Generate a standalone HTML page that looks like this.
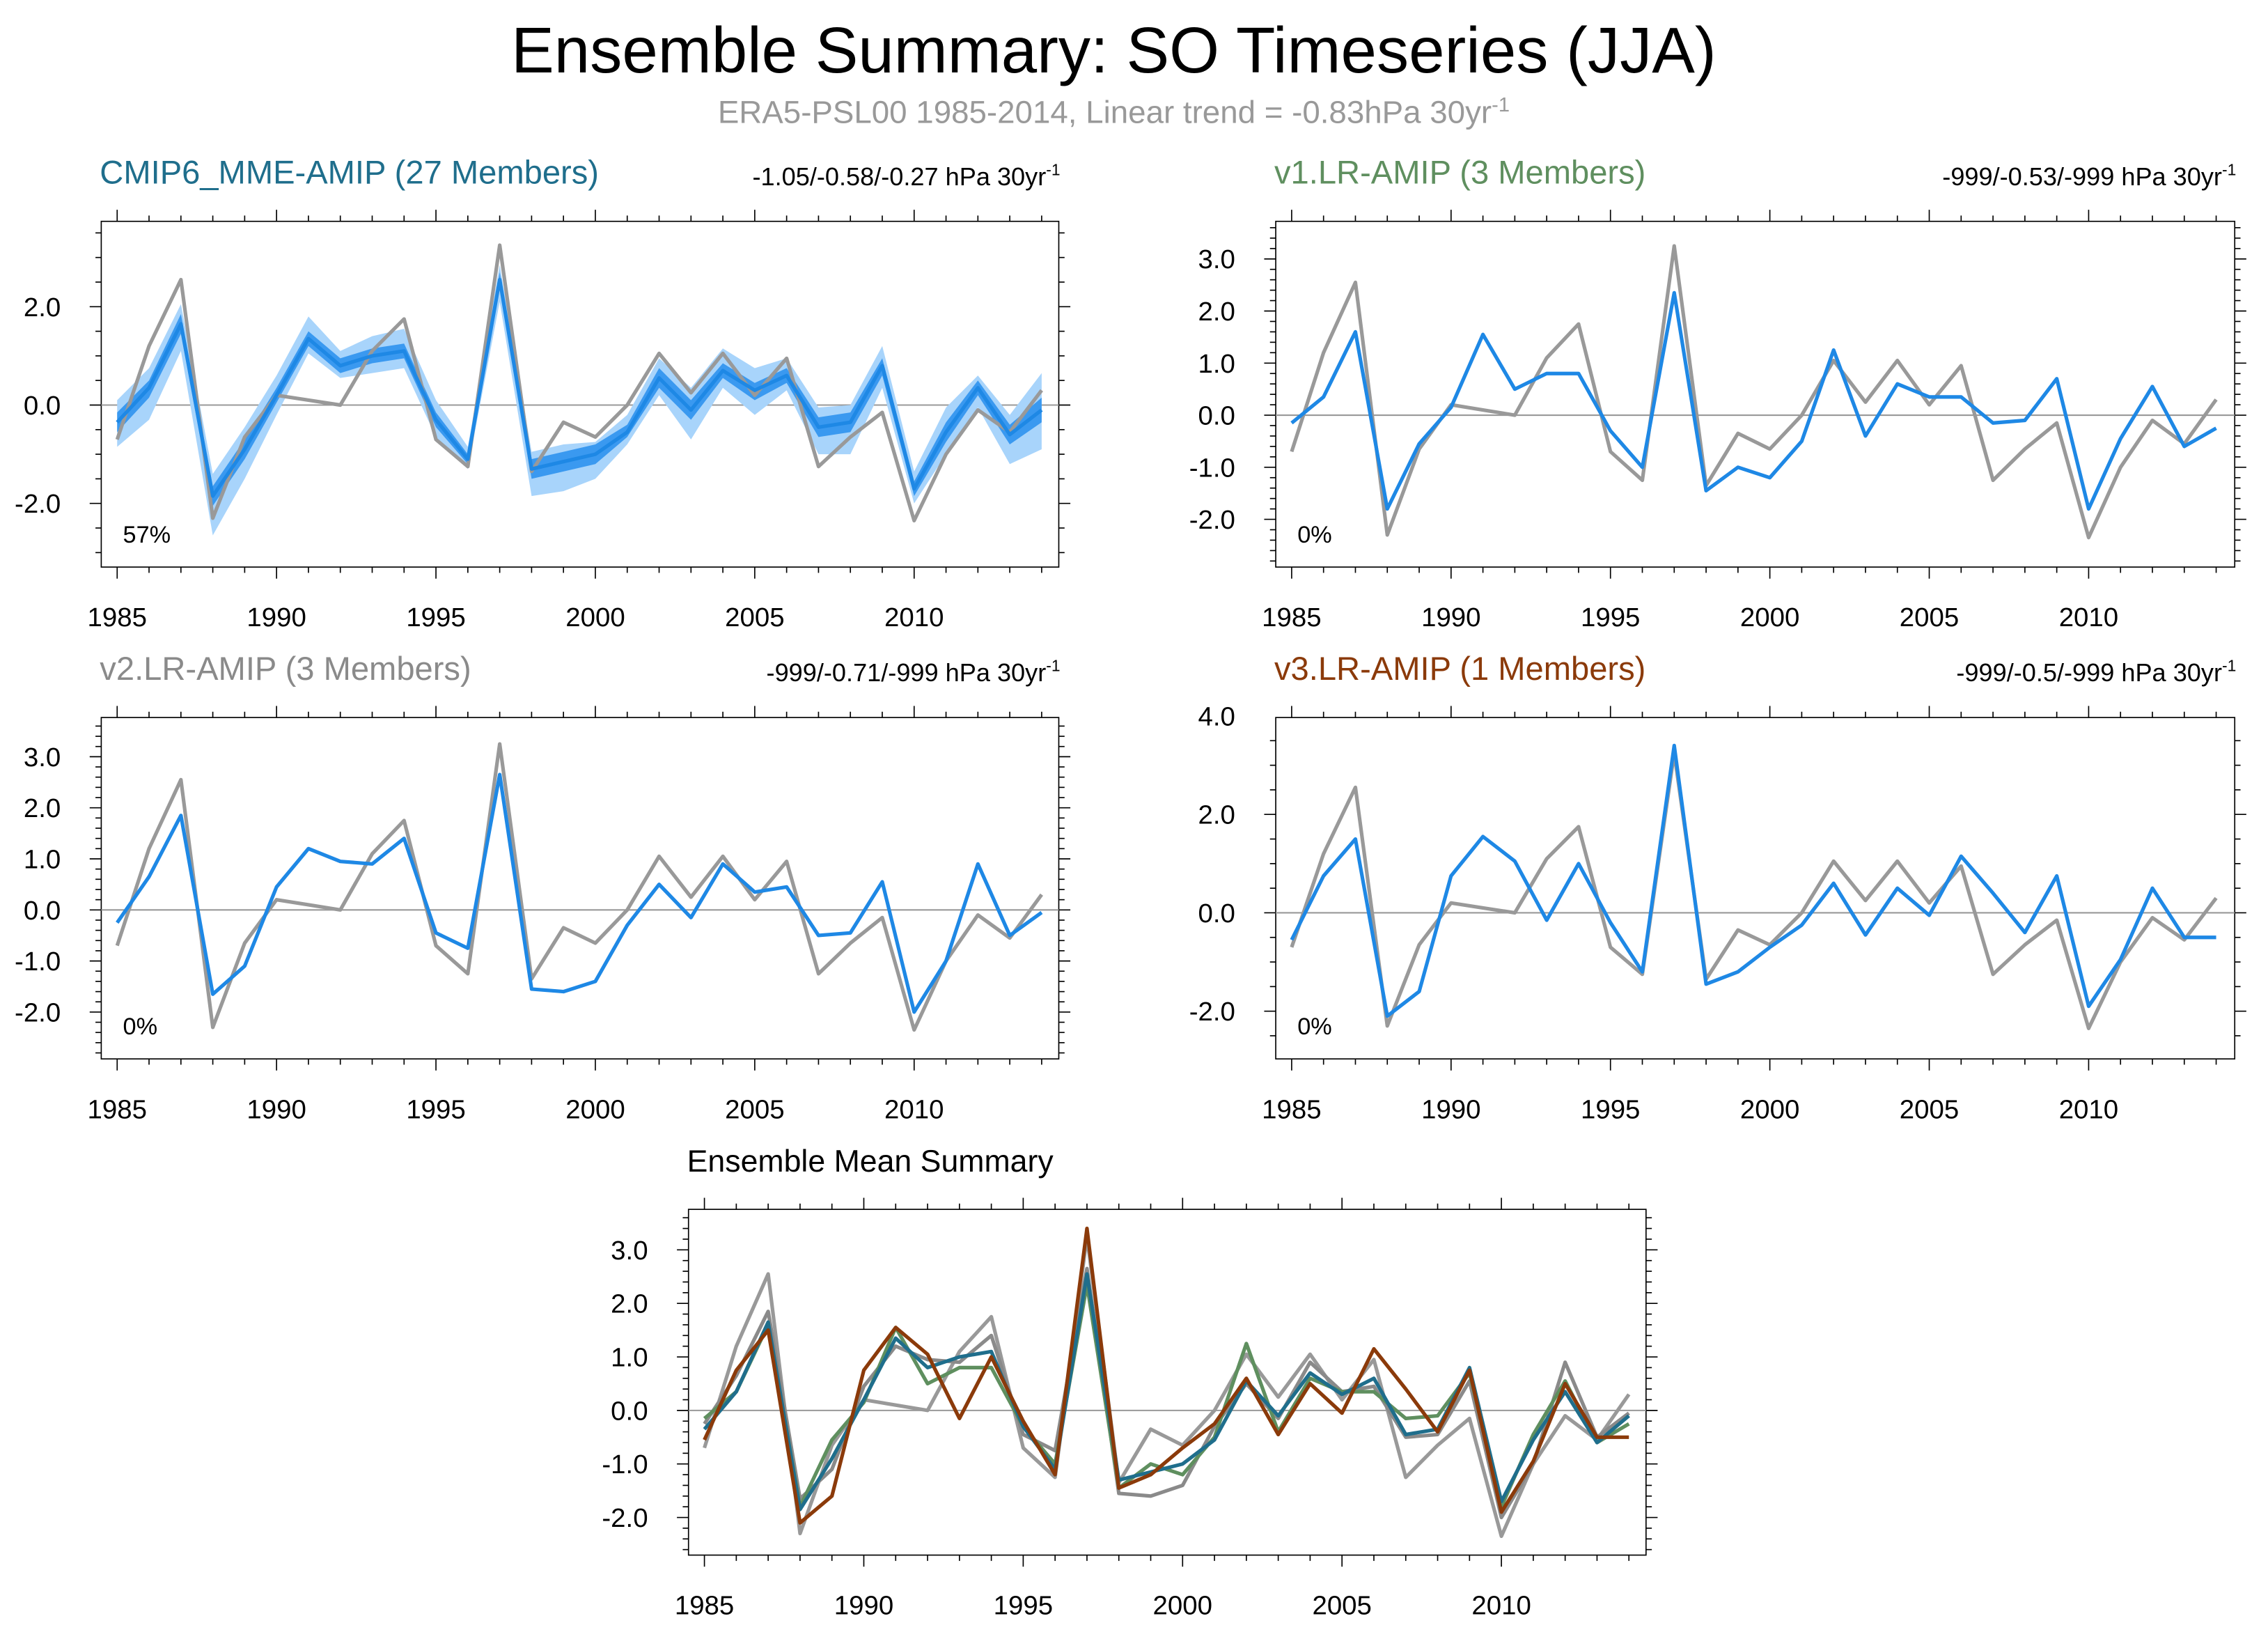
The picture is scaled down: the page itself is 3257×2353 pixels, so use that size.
<!DOCTYPE html>
<html><head><meta charset="utf-8">
<style>
html,body{margin:0;padding:0;background:#fff;}
svg{display:block;font-family:"Liberation Sans",sans-serif;}
</style></head>
<body>
<svg id="chart" width="3257" height="2353" viewBox="0 0 1568 1133" preserveAspectRatio="none" xmlns="http://www.w3.org/2000/svg">
<text x="770" y="50" font-size="44.5" text-anchor="middle" fill="#000">Ensemble Summary: SO Timeseries (JJA)</text>
<text x="770" y="85" font-size="22" text-anchor="middle" fill="#999">ERA5-PSL00 1985-2014, Linear trend = -0.83hPa 30yr<tspan dy="-8" font-size="14">-1</tspan></text>
</svg>
<script>
const years = [1985,1986,1987,1988,1989,1990,1991,1992,1993,1994,1995,1996,1997,1998,1999,2000,2001,2002,2003,2004,2005,2006,2007,2008,2009,2010,2011,2012,2013,2014];
const era5 = [-0.7,1.2,2.55,-2.3,-0.65,0.2,0.1,0.0,1.1,1.75,-0.7,-1.25,3.25,-1.35,-0.35,-0.65,0.0,1.05,0.25,1.05,0.2,0.95,-1.25,-0.65,-0.15,-2.35,-1.0,-0.1,-0.55,0.3];
const mme = [-0.35,0.35,1.65,-1.85,-0.9,0.2,1.35,0.8,1.0,1.1,-0.3,-1.1,2.55,-1.3,-1.15,-1.0,-0.55,0.55,-0.1,0.7,0.3,0.6,-0.45,-0.35,0.8,-1.7,-0.55,0.35,-0.6,-0.1];
const mmeLightLo = [-0.85,-0.3,1.1,-2.65,-1.5,-0.2,1.05,0.55,0.65,0.75,-0.65,-1.3,2.1,-1.85,-1.75,-1.5,-0.8,0.2,-0.7,0.35,-0.2,0.3,-1.0,-1.0,0.35,-2.0,-1.0,-0.05,-1.2,-0.9];
const mmeLightHi = [0.1,0.75,2.05,-1.4,-0.45,0.6,1.8,1.1,1.4,1.55,0.1,-0.85,2.85,-0.95,-0.8,-0.75,-0.2,0.95,0.35,1.15,0.75,0.95,-0.05,0.0,1.2,-1.35,-0.05,0.6,-0.2,0.65];
const mmeDarkLo = [-0.55,0.15,1.45,-2.05,-1.1,0.05,1.2,0.65,0.85,0.95,-0.45,-1.2,2.4,-1.5,-1.35,-1.2,-0.65,0.35,-0.3,0.55,0.1,0.45,-0.65,-0.55,0.6,-1.85,-0.75,0.2,-0.8,-0.35];
const mmeDarkHi = [-0.15,0.5,1.85,-1.65,-0.7,0.35,1.5,0.95,1.15,1.25,-0.15,-1.0,2.7,-1.1,-0.95,-0.8,-0.4,0.75,0.1,0.85,0.45,0.75,-0.25,-0.15,0.95,-1.55,-0.35,0.5,-0.4,0.15];
const v1 = [-0.15,0.35,1.6,-1.8,-0.55,0.15,1.55,0.5,0.8,0.8,-0.3,-1.0,2.35,-1.45,-1.0,-1.2,-0.5,1.25,-0.4,0.6,0.35,0.35,-0.15,-0.1,0.7,-1.8,-0.45,0.55,-0.6,-0.25];
const v2 = [-0.25,0.65,1.85,-1.65,-1.1,0.45,1.2,0.95,0.9,1.4,-0.45,-0.75,2.65,-1.55,-1.6,-1.4,-0.3,0.5,-0.15,0.9,0.35,0.45,-0.5,-0.45,0.55,-2.0,-1.0,0.9,-0.5,-0.05];
const v3 = [-0.55,0.75,1.5,-2.1,-1.6,0.75,1.55,1.05,-0.15,1.0,-0.2,-1.2,3.4,-1.45,-1.2,-0.7,-0.25,0.6,-0.45,0.5,-0.05,1.15,0.4,-0.4,0.75,-1.9,-0.95,0.5,-0.5,-0.5];
const xTickYears = [1985,1990,1995,2000,2005,2010];

const NS = "http://www.w3.org/2000/svg";
const svg = document.getElementById('chart');
function mk(tag, attrs, parent){
  const e = document.createElementNS(NS, tag);
  for (const k in attrs) e.setAttribute(k, attrs[k]);
  (parent||svg).appendChild(e);
  return e;
}
const BLUE = "#1e88e5", GRAY = "#999999";

function panel(cfg){
  const g = mk('g', {});
  
  
  const L = cfg.x0, R = cfg.x1, T = cfg.y0, B = cfg.y1;
  const x0px = L + 11, pxPerYr = 22.04;
  const xs = yr => x0px + (yr - 1985) * pxPerYr;
  const ys = v => cfg.zero - v * cfg.scale;
  const vmax = (cfg.zero - T) / cfg.scale, vmin = (cfg.zero - B) / cfg.scale;
  if (cfg.title) {
    const t = mk('text', {x: L - 1, y: T - 26, 'font-size': cfg.titleSize || 22.7, fill: cfg.titleColor}, g);
    t.textContent = cfg.title;
    
    
  }
  if (cfg.right) {
    const t = mk('text', {x: R + 1, y: T - 25, 'font-size': 17.4, fill: '#000', 'text-anchor': 'end'}, g);
    t.innerHTML = cfg.right + ' hPa 30yr<tspan dy="-7" font-size="11">-1</tspan>';
    
    
  }
  const box = mk('rect', {x: L, y: T, width: R - L, height: B - T, fill: 'none', stroke: '#000', 'stroke-width': 0.8}, g);
  
  
  for (let yr = 1985; yr <= 2014; yr++) {
    const major = yr % 5 === 0;
    const len = major ? 8 : 4;
    mk('line', {x1: xs(yr), x2: xs(yr), y1: B, y2: B + len, stroke: '#000', 'stroke-width': 0.8}, g);
    mk('line', {x1: xs(yr), x2: xs(yr), y1: T, y2: T - len, stroke: '#000', 'stroke-width': 0.8}, g);
  }
  xTickYears.forEach(yr => {
    const t = mk('text', {x: xs(yr), y: B + 41, 'font-size': 18.5, 'text-anchor': 'middle'}, g);
    t.textContent = yr;
    
    
  });
  const minor = cfg.yStep / cfg.yMinorDiv;
  for (let v = Math.ceil(vmin / minor) * minor; v <= vmax + 1e-9; v += minor) {
    const isMaj = Math.abs(v / cfg.yStep - Math.round(v / cfg.yStep)) < 1e-6;
    const len = isMaj ? 8 : 4;
    mk('line', {x1: L, x2: L - len, y1: ys(v), y2: ys(v), stroke: '#000', 'stroke-width': 0.8}, g);
    mk('line', {x1: R, x2: R + len, y1: ys(v), y2: ys(v), stroke: '#000', 'stroke-width': 0.8}, g);
  }
  cfg.yLabels.forEach(v => {
    const t = mk('text', {x: L - 28, y: ys(v) + 6.5, 'font-size': 18.5, 'text-anchor': 'end'}, g);
    t.textContent = v.toFixed(1);
    
    
  });
  const z = mk('line', {x1: L, x2: R, y1: ys(0), y2: ys(0), stroke: '#999', 'stroke-width': 1}, g);
  
  
  const poly = arr => arr.map((v, i) => xs(years[i]) + ',' + ys(v)).join(' ');
  (cfg.bands || []).forEach(b => {
    const pts = b.lo.map((v, i) => xs(years[i]) + ',' + ys(v)).concat(b.hi.map((v, i) => xs(years[i]) + ',' + ys(v)).reverse()).join(' ');
    const p = mk('polygon', {points: pts, fill: b.color, stroke: 'none'}, g);
    
    
  });
  cfg.series.forEach(s => {
    const p = mk('polyline', {points: poly(s.data), fill: 'none', stroke: s.color, 'stroke-width': s.w || 2.5, 'stroke-linejoin': 'round'}, g);
    
    
  });
  if (cfg.pct) {
    const t = mk('text', {x: L + 15, y: B - 17, 'font-size': 16.5}, g);
    t.textContent = cfg.pct;
    
    
  }
}

panel({name:'panel-cmip6-mme', x0:70, x1:732, y0:153, y1:392, zero:280, scale:34, yStep:2, yMinorDiv:4, yLabels:[-2,0,2],
  title:'CMIP6_MME-AMIP (27 Members)', titleColor:'#1f6e8c', right:'-1.05/-0.58/-0.27', pct:'57%',
  bands:[{lo:mmeLightLo, hi:mmeLightHi, color:'#a8d4fb', name:'spread-band-outer'},{lo:mmeDarkLo, hi:mmeDarkHi, color:'#3a99f0', name:'spread-band-inner'}],
  series:[{data:era5, color:GRAY, name:'era5-line'},{data:mme, color:BLUE, name:'mme-mean-line'}]});
panel({name:'panel-v1', x0:882, x1:1545, y0:153, y1:392, zero:287, scale:36, yStep:1, yMinorDiv:5, yLabels:[-2,-1,0,1,2,3],
  title:'v1.LR-AMIP (3 Members)', titleColor:'#5f8f5f', right:'-999/-0.53/-999', pct:'0%',
  series:[{data:era5, color:GRAY, name:'era5-line'},{data:v1, color:BLUE, name:'v1-mean-line'}]});
panel({name:'panel-v2', x0:70, x1:732, y0:496, y1:732, zero:629, scale:35.3, yStep:1, yMinorDiv:5, yLabels:[-2,-1,0,1,2,3],
  title:'v2.LR-AMIP (3 Members)', titleColor:'#8a8a8a', right:'-999/-0.71/-999', pct:'0%',
  series:[{data:era5, color:GRAY, name:'era5-line'},{data:v2, color:BLUE, name:'v2-mean-line'}]});
panel({name:'panel-v3', x0:882, x1:1545, y0:496, y1:732, zero:631, scale:34, yStep:2, yMinorDiv:4, yLabels:[-2,0,2,4],
  title:'v3.LR-AMIP (1 Members)', titleColor:'#8b3a0a', right:'-999/-0.5/-999', pct:'0%',
  series:[{data:era5, color:GRAY, name:'era5-line'},{data:v3, color:BLUE, name:'v3-line'}]});
panel({name:'panel-ensemble-mean', x0:476, x1:1138, y0:836, y1:1075, zero:975, scale:37, yStep:1, yMinorDiv:5, yLabels:[-2,-1,0,1,2,3],
  title:'Ensemble Mean Summary', titleColor:'#000', titleSize:21.5,
  series:[{data:era5, color:GRAY, name:'era5-line'},{data:v2, color:'#8a8a8a', name:'v2-line'},{data:v1, color:'#5f8f5f', name:'v1-line'},{data:mme, color:'#1f6e8c', name:'mme-line'},{data:v3, color:'#8b3a0a', name:'v3-line'}]});
</script>
</body></html>
